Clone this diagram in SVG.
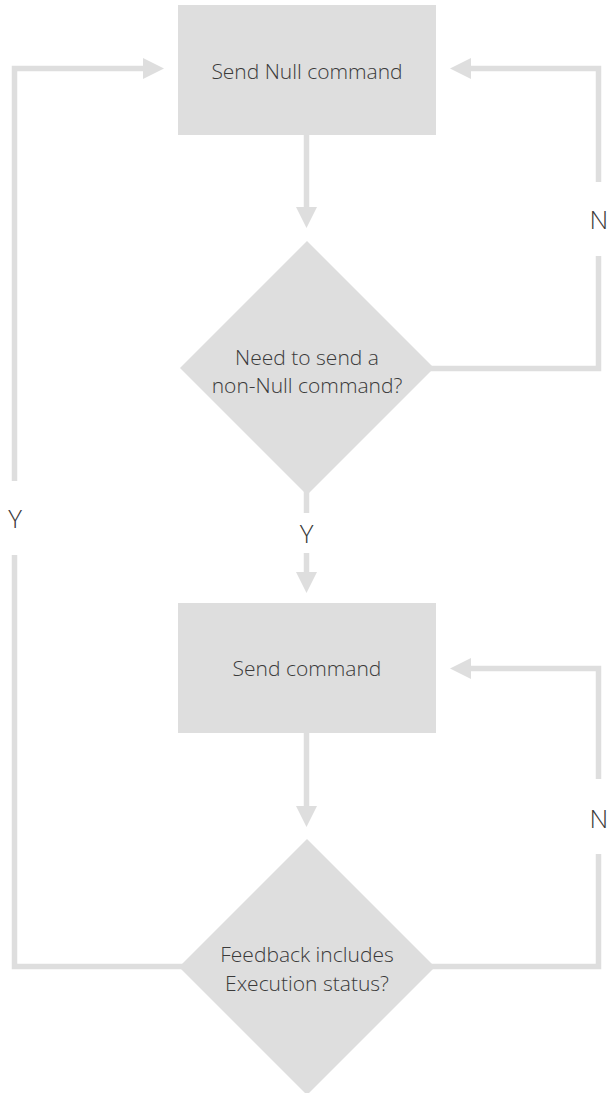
<svg xmlns="http://www.w3.org/2000/svg" width="610" height="1093" viewBox="0 0 610 1093">
<style>
.shape{fill:#dedede}
.conn{fill:none;stroke:#dedede;stroke-width:5.5;stroke-linejoin:miter;stroke-linecap:butt}
.txt{font-family:"Open Sans","Liberation Sans",sans-serif;font-weight:300;font-size:21px;fill:#3a3a3a;text-anchor:middle}
.lbl{font-family:"Open Sans","Liberation Sans",sans-serif;font-weight:300;font-size:26px;fill:#3a3a3a;text-anchor:middle}
</style>
<defs>
<marker id="ah" markerUnits="userSpaceOnUse" markerWidth="21" markerHeight="21" refX="0" refY="10.5" orient="auto" viewBox="0 0 21 21">
<path d="M0,0 L21,10.5 L0,21 z" fill="#dedede"/>
</marker>
</defs>
<rect width="610" height="1093" fill="#ffffff"/>
<g id="connectors">
<line class="conn" x1="306.5" y1="135" x2="306.5" y2="207" marker-end="url(#ah)"/>
<line class="conn" x1="306.5" y1="490" x2="306.5" y2="513"/>
<line class="conn" x1="306.5" y1="553" x2="306.5" y2="572" marker-end="url(#ah)"/>
<line class="conn" x1="306.5" y1="733" x2="306.5" y2="806" marker-end="url(#ah)"/>
<polyline class="conn" points="430,368.5 598.5,368.5 598.5,256"/>
<polyline class="conn" points="598.5,182 598.5,68.5 471,68.5" marker-end="url(#ah)"/>
<polyline class="conn" points="430,966.5 598.5,966.5 598.5,854"/>
<polyline class="conn" points="598.5,779 598.5,668.5 471,668.5" marker-end="url(#ah)"/>
<polyline class="conn" points="184,966.5 14.5,966.5 14.5,555"/>
<polyline class="conn" points="14.5,481 14.5,68.5 143,68.5" marker-end="url(#ah)"/>
<text class="lbl" x="599" y="229">N</text>
<text class="lbl" x="599" y="828">N</text>
<text class="lbl" x="15" y="528">Y</text>
<text class="lbl" x="306.5" y="543">Y</text>
</g>
<g id="node-send-null">
<rect class="shape" x="178" y="5" width="258" height="130"/>
<text class="txt" x="307" y="79">Send Null command</text>
</g>
<g id="node-need-send">
<polygon class="shape" points="307,241 434,368 307,495 180,368"/>
<text class="txt" x="307" y="365">Need to send a</text>
<text class="txt" x="307" y="393">non-Null command?</text>
</g>
<g id="node-send-command">
<rect class="shape" x="178" y="603" width="258" height="130"/>
<text class="txt" x="307" y="676">Send command</text>
</g>
<g id="node-feedback">
<polygon class="shape" points="307,839 435,967 307,1095 179,967"/>
<text class="txt" x="307" y="962">Feedback includes</text>
<text class="txt" x="307" y="991">Execution status?</text>
</g>
</svg>
